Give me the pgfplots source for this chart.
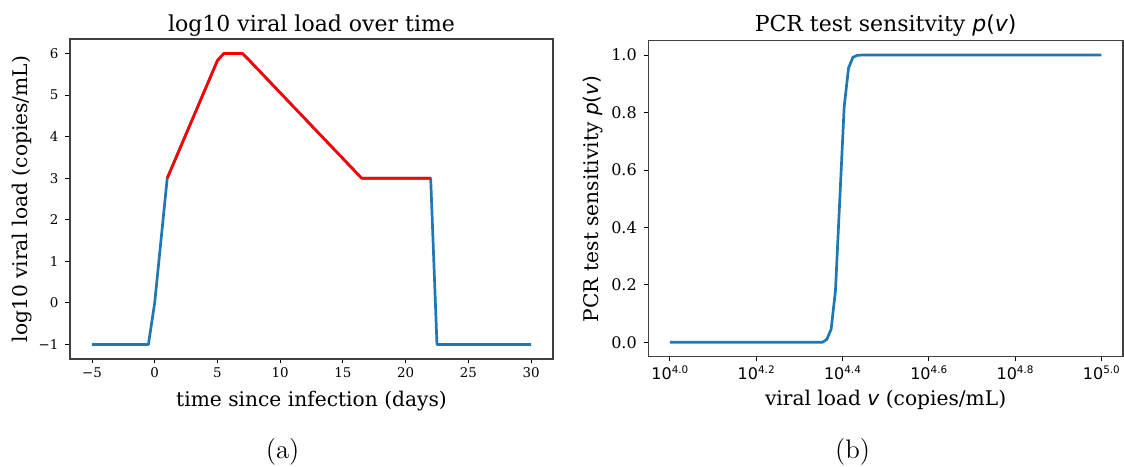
\documentclass[border=0pt]{standalone}
\usepackage{fontspec}
\usepackage{pgfplots}
\pgfplotsset{compat=1.18}
\newfontfamily\djserif{DejaVu Serif}
\newfontfamily\djsans{DejaVu Sans}
\definecolor{mplblue}{HTML}{1F77B4}
\newcommand\mi[1]{{\djsans\itshape #1}}
\newcommand\pv{\mi{p}{\djsans(}\mi{v}{\djsans)}}
\newcommand\lt[1]{{\djsans 10\raisebox{3pt}{\fontsize{5.2}{6}\selectfont #1}}}

\pgfplotstableread{
t    lv
-5   -1
-0.5 -1
0    0
1    3
5    5.83
5.5  6
7    6
7.5  5.85
16.5 3
22   3
22.5 -1
30   -1
}\fulltab

\pgfplotstableread{
t    lv
1    3
5    5.83
5.5  6
7    6
7.5  5.85
16.5 3
22   3
}\redtab

\pgfplotstableread{
lgv    p
4.0    0
4.3535 0
4.3636 0.01
4.3737 0.045
4.3838 0.18
4.3939 0.5
4.4040 0.82
4.4141 0.955
4.4242 0.992
4.4343 0.999
4.4444 1.0
5.0    1.0
}\senstab

\pgfplotsset{
  every axis title shift=0pt,
  mplstyle/.style={
    scale only axis, anchor=south west,
    tick pos=left, tick align=outside,
    major tick length=2.25pt,
    tick style={black, line width=0.45pt},
    axis line style={black!75, line width=0.6pt},
    label style={font=\djserif\fontsize{10.1}{11}\selectfont},
    title style={font=\djserif\fontsize{11}{12}\selectfont, anchor=base},
  }
}

\begin{document}
\begin{tikzpicture}
\useasboundingbox (0,0) rectangle (562pt,233pt);

\begin{axis}[mplstyle,
  at={(35pt,53.5pt)}, width=241.5pt, height=160pt,
  xmin=-6.75, xmax=31.75, ymin=-1.35, ymax=6.35,
  xtick={-5,0,5,10,15,20,25,30},
  xticklabels={{−5},0,5,10,15,20,25,30},
  ytick={-1,0,1,2,3,4,5,6},
  yticklabels={{−1},0,1,2,3,4,5,6},
  ticklabel style={font=\djserif\fontsize{6.7}{7.5}\selectfont},
  xticklabel style={yshift=1.5pt},
  title={log10 viral load over time},
  title style={at={(axis description cs:0.5,1.025)}},
  xlabel={time since infection (days)},
  xlabel style={at={(axis description cs:0.5,-0.147)}, anchor=base},
  ylabel={log10 viral load (copies/mL)},
  ylabel style={at={(axis description cs:-0.0994,0.5)}, anchor=center},
]
\addplot[mplblue, line width=1.35pt, line join=round] table[x=t,y=lv] {\fulltab};
\addplot[red, line width=1.35pt, line join=round] table[x=t,y=lv] {\redtab};
\end{axis}

\begin{axis}[mplstyle,
  at={(324.15pt,54.65pt)}, width=237.3pt, height=158pt,
  xmin=3.95, xmax=5.05, ymin=-0.05, ymax=1.05,
  xtick={4,4.2,4.4,4.6,4.8,5},
  xticklabels={\lt{4.0},\lt{4.2},\lt{4.4},\lt{4.6},\lt{4.8},\lt{5.0}},
  ytick={0,0.2,0.4,0.6,0.8,1},
  yticklabels={0.0,0.2,0.4,0.6,0.8,1.0},
  ticklabel style={font=\djserif\fontsize{8}{9}\selectfont},
  xticklabel style={yshift=1pt},
  title={PCR test sensitvity \pv},
  title style={at={(axis description cs:0.5,1.0288)}},
  xlabel={viral load \mi{v} (copies/mL)},
  xlabel style={at={(axis description cs:0.5,-0.156)}, anchor=base},
  ylabel={PCR test sensitivity \pv},
  ylabel style={at={(axis description cs:-0.1165,0.5)}, anchor=center},
]
\addplot[mplblue, line width=1.35pt, line join=round] table[x=lgv,y=p] {\senstab};
\end{axis}

\node[font=\fontsize{13.4}{15}\selectfont] at (141.3pt,7pt) {(a)};
\node[font=\fontsize{13.4}{15}\selectfont] at (426.3pt,7pt) {(b)};
\end{tikzpicture}
\end{document}
